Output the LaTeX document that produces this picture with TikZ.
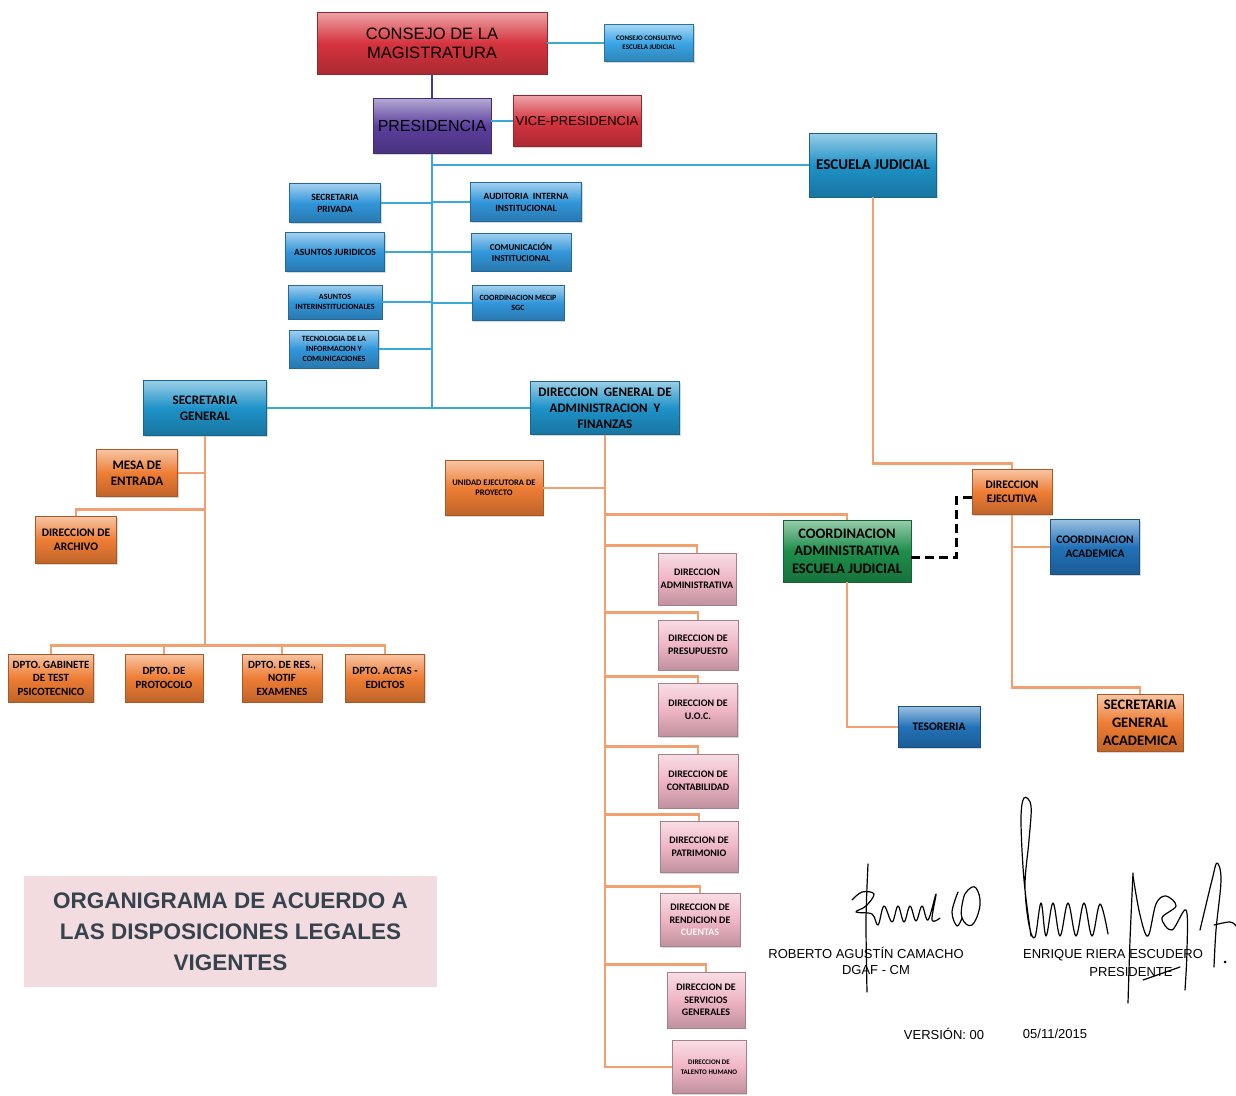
\documentclass[tikz,border=0pt]{standalone}
\usepackage{fontspec}
\setmainfont{Carlito}
\newfontfamily\arialfont{Liberation Sans}
\usetikzlibrary{shadows}

\definecolor{cmred}{HTML}{D6343E}
\definecolor{presviolet}{HTML}{5B3F9E}
\definecolor{lightblue}{HTML}{3AA5E5}
\definecolor{boxblue}{HTML}{3296DA}
\definecolor{ejblue}{HTML}{1E92C8}
\definecolor{darkblue}{HTML}{2272B8}
\definecolor{boxorange}{HTML}{EE7D34}
\definecolor{cagreen}{HTML}{1D8E4A}
\definecolor{pinkbox}{HTML}{EFB5C5}
\definecolor{lineblue}{HTML}{3AA9D6}
\definecolor{lineorange}{HTML}{F3A070}
\definecolor{lineviolet}{HTML}{4B3A8C}
\definecolor{titlepink}{HTML}{F2DCE0}
\definecolor{titlegray}{HTML}{36434F}

\newcommand{\fsz}[2]{\fontsize{#1}{#2}\selectfont}

\begin{document}
\begin{tikzpicture}[x=1pt, y=-1pt,
  orgbox/.style={rectangle, draw=#1!70!black, line width=0.5pt,
    top color=#1!45!white, bottom color=#1!80!black, middle color=#1,
    inner sep=1pt, align=center, text=black,
    drop shadow={shadow xshift=1.2pt, shadow yshift=-1.2pt, fill=black!30}},
  wh/.style 2 args={minimum width=#1pt, minimum height=#2pt},
  fs/.style 2 args={font=\fsz{#1}{#2}\bfseries},
  afs/.style 2 args={font=\arialfont\fsz{#1}{#2}},
  blueline/.style={draw=lineblue, line width=2.6pt},
  orangeline/.style={draw=lineorange, line width=2.6pt},
  dashline/.style={draw=black, line width=3pt, dash pattern=on 9pt off 5pt},
  sig/.style={draw=black, line width=1.2pt, line cap=round, line join=round},
  plain/.style={font=\arialfont\fsz{13}{15}, inner sep=0pt},
]
\useasboundingbox (0,0) rectangle (1236,1095);

% consejo y presidencia
\node[orgbox=cmred, wh={230}{62}, afs={16.5}{19}] (cm) at (432,43) {CONSEJO DE LA\\MAGISTRATURA};
\node[orgbox=lightblue, wh={89}{37}, fs={7}{9}] (cc) at (649,43) {CONSEJO CONSULTIVO\\ESCUELA JUDICIAL};
\node[orgbox=presviolet, wh={118}{55}, afs={16}{19}] (pres) at (432,126) {PRESIDENCIA};
\node[orgbox=cmred, wh={128}{51}, afs={13}{16}] (vp) at (577,121) {VICE-PRESIDENCIA};
\node[orgbox=ejblue, wh={127}{64}, fs={15}{18}] (ej) at (873,165) {ESCUELA JUDICIAL};

% dependencias de presidencia
\node[orgbox=boxblue, wh={91}{39}, fs={9.5}{12}] (sp) at (335,203) {SECRETARIA\\PRIVADA};
\node[orgbox=boxblue, wh={111}{39}, fs={9.5}{12}] (aud) at (526,202) {AUDITORIA\ \ INTERNA\\INSTITUCIONAL};
\node[orgbox=boxblue, wh={99}{39}, fs={9.5}{12}] (aj) at (335,252) {ASUNTOS JURIDICOS};
\node[orgbox=boxblue, wh={100}{38}, fs={9}{11}] (com) at (521,252) {COMUNICACIÓN\\INSTITUCIONAL};
\node[orgbox=boxblue, wh={94}{34}, fs={8}{9.5}] (ai) at (335,302) {ASUNTOS\\INTERINSTITUCIONALES};
\node[orgbox=boxblue, wh={92}{35}, fs={8}{10}] (mecip) at (518,303) {COORDINACION MECIP\\SGC};
\node[orgbox=boxblue, wh={89}{38}, fs={8}{10}] (tic) at (334,349) {TECNOLOGIA DE LA\\INFORMACION Y\\COMUNICACIONES};

% direcciones generales
\node[orgbox=ejblue, wh={123}{55}, fs={13}{16}] (sg) at (205,408) {SECRETARIA\\GENERAL};
\node[orgbox=ejblue, wh={149}{53}, fs={13}{16}] (dgaf) at (605,408) {DIRECCION\ \ GENERAL DE\\ADMINISTRACION\ \ Y\\FINANZAS};

% secretaria general
\node[orgbox=boxorange, wh={81}{47}, fs={13}{16}] (mesa) at (137,473) {MESA DE\\ENTRADA};
\node[orgbox=boxorange, wh={81}{47}, fs={11.5}{14}] (arch) at (76,540) {DIRECCION DE\\ARCHIVO};
\node[orgbox=boxorange, wh={85}{48}, fs={11}{13.5}] (gab) at (51,678) {DPTO. GABINETE\\DE TEST\\PSICOTECNICO};
\node[orgbox=boxorange, wh={78}{48}, fs={11}{14}] (prot) at (164,678) {DPTO. DE\\PROTOCOLO};
\node[orgbox=boxorange, wh={80}{48}, fs={11}{13.5}] (res) at (282,678) {DPTO. DE RES.,\\NOTIF\\EXAMENES};
\node[orgbox=boxorange, wh={79}{48}, fs={11}{14}] (actas) at (385,678) {DPTO. ACTAS -\\EDICTOS};

% administracion y finanzas
\node[orgbox=boxorange, wh={98}{55}, fs={8.5}{10}] (ue) at (494,488) {UNIDAD EJECUTORA DE\\PROYECTO};
\node[orgbox=cagreen, wh={128}{62}, fs={14.5}{17.5}] (cae) at (847,551) {COORDINACION\\ADMINISTRATIVA\\ESCUELA JUDICIAL};
\node[orgbox=pinkbox, wh={78}{52}, fs={10}{13}] (p1) at (697,579) {DIRECCION\\ADMINISTRATIVA};
\node[orgbox=pinkbox, wh={80}{50}, fs={10}{13}] (p2) at (698,645) {DIRECCION DE\\PRESUPUESTO};
\node[orgbox=pinkbox, wh={79}{53}, fs={10}{13}] (p3) at (698,710) {DIRECCION DE\\U.O.C.};
\node[orgbox=pinkbox, wh={80}{54}, fs={10}{13}] (p4) at (698,781) {DIRECCION DE\\CONTABILIDAD};
\node[orgbox=pinkbox, wh={78}{51}, fs={10}{13}] (p5) at (699,847) {DIRECCION DE\\PATRIMONIO};
\node[orgbox=pinkbox, wh={80}{53}, fs={10}{12.5}] (p6) at (700,920) {DIRECCION DE\\RENDICION DE\\\textcolor{white!85!pinkbox}{CUENTAS}};
\node[orgbox=pinkbox, wh={78}{56}, fs={10}{12.5}] (p7) at (706,1000) {DIRECCION DE\\SERVICIOS\\GENERALES};
\node[orgbox=pinkbox, wh={74}{53}, fs={7}{10}] (p8) at (709,1067) {DIRECCION DE\\TALENTO HUMANO};

% escuela judicial
\node[orgbox=boxorange, wh={80}{45}, fs={11.5}{14}] (de) at (1012,492) {DIRECCION\\EJECUTIVA};
\node[orgbox=darkblue, wh={89}{55}, fs={11.5}{14}] (cac) at (1095,547) {COORDINACION\\ACADEMICA};
\node[orgbox=darkblue, wh={82}{41}, fs={11.5}{14}] (tes) at (939,727) {TESORERIA};
\node[orgbox=boxorange, wh={86}{57}, fs={14.5}{18}] (sgac) at (1140,723) {SECRETARIA\\GENERAL\\ACADEMICA};

% lineas superiores
\draw[draw=lineviolet, line width=2.6pt] (cm.south) -- (pres.north);
\draw[blueline] (cm.east) -- (cc.west);
\draw[blueline] (vp.west) -- (vp.west -| pres.east);
\draw[blueline] (pres.south) -- (pres.south |- sg.east);
\draw[blueline] (sg.east) -- (dgaf.west);
\draw[blueline] (ej.west) -- (ej.west -| pres.south);
\foreach \b in {sp,aj,ai,tic}
  \draw[blueline] (\b.east) -- (\b.east -| pres.south);
\foreach \b in {aud,com,mecip}
  \draw[blueline] (\b.west) -- (\b.west -| pres.south);

% secretaria general
\draw[orangeline] (sg.south) -- ([yshift=8pt]gab.north -| sg.south);
\draw[orangeline] (mesa.east) -- (mesa.east -| sg.south);
\draw[orangeline] (arch.north) -- ([yshift=7pt]arch.north) -- ([yshift=7pt]arch.north -| sg.south);
\draw[orangeline] (gab.north) |- ([yshift=8pt]gab.north -| actas.north) -- (actas.north);
\foreach \b in {prot,res}
  \draw[orangeline] (\b.north) -- ([yshift=8pt]\b.north);

% administracion y finanzas
\draw[orangeline] (dgaf.south) -- (dgaf.south |- p8.west) -- (p8.west);
\draw[orangeline] (ue.east) -- (ue.east -| dgaf.south);
\draw[orangeline] (cae.north) -- ([yshift=5pt]cae.north) -- ([yshift=5pt]cae.north -| dgaf.south);
\foreach \n in {1,...,7}
  \draw[orangeline] (p\n.north) -- ([yshift=7pt]p\n.north) -- ([yshift=7pt]p\n.north -| dgaf.south);

% escuela judicial
\draw[orangeline] (ej.south) -- ([yshift=6pt]de.north -| ej.south) -| (de.north);
\draw[orangeline] (de.south) -- ([yshift=7pt]sgac.north -| de.south) -| (sgac.north);
\draw[orangeline] (cac.west) -- (cac.west -| de.south);
\draw[orangeline] (cae.south) |- (tes.west);
\draw[dashline] ([yshift=-6pt]cae.east) -| ([xshift=-15pt, yshift=-5pt]de.west) -- ([yshift=-5pt]de.west);

% titulo
\node[fill=titlepink, wh={413}{111}, align=center, text=titlegray,
  font=\arialfont\bfseries\fsz{22.5}{31}] (title) at (230.5,931.5)
  {ORGANIGRAMA DE ACUERDO A\\LAS DISPOSICIONES LEGALES\\VIGENTES};

% firmas
\node[plain] (rac) at (866,953) {ROBERTO AGUSTÍN CAMACHO};
\node[plain] (dgafcm) at (876,970) {DGAF - CM};
\node[plain] (rie) at (1113,955) {ENRIQUE RIERA ESCUDERO};
\node[plain] (pdte) at (1131,972) {PRESIDENTE};
\node[plain] (ver) at (944,1034) {VERSIÓN: 00};
\node[plain] (fecha) at (1055,1034) {05/11/2015};

\draw[sig] plot[smooth, tension=0.5] coordinates {(868,864) (866,920) (867,992)};
\draw[sig] plot[smooth, tension=0.6] coordinates {(852,900) (862,892) (874,894) (866,906) (856,912) (872,914) (878,925)
  (884,906) (892,922) (898,906) (904,922) (910,906) (916,921) (922,906) (928,920) (936,894) (932,920) (940,918)};
\draw[sig] plot[smooth cycle, tension=0.7] coordinates {(968,890) (976,888) (980,905) (972,925) (962,918) (963,900)};
\draw[sig] plot[smooth, tension=0.6] coordinates {(958,892) (952,912) (957,926) (962,918)};

\draw[sig] plot[smooth, tension=0.6] coordinates {(1031,936) (1024,880) (1021,820) (1024,798) (1031,806) (1029,840) (1025,885)
  (1029,925) (1035,937) (1041,903) (1046,936) (1053,903) (1060,936) (1068,903) (1076,936) (1084,903) (1092,936) (1100,904) (1108,934)};
\draw[sig] plot[smooth, tension=0.5] coordinates {(1128,1003) (1130,940) (1133,873)};
\draw[sig] plot[smooth, tension=0.6] coordinates {(1133,876) (1140,915) (1148,936) (1156,904) (1166,896) (1176,906) (1162,918) (1172,930)
  (1186,910) (1187,950) (1185,990)};
\draw[sig] plot[smooth, tension=0.6] coordinates {(1200,930) (1212,880) (1217,863) (1221,880) (1216,930) (1214,967)};
\draw[sig] plot[smooth, tension=0.6] coordinates {(1214,925) (1230,922) (1236,926)};
\draw[sig] (1143,980) -- (1180,967);
\fill (1225,962) circle (1.5pt);

\end{tikzpicture}
\end{document}
